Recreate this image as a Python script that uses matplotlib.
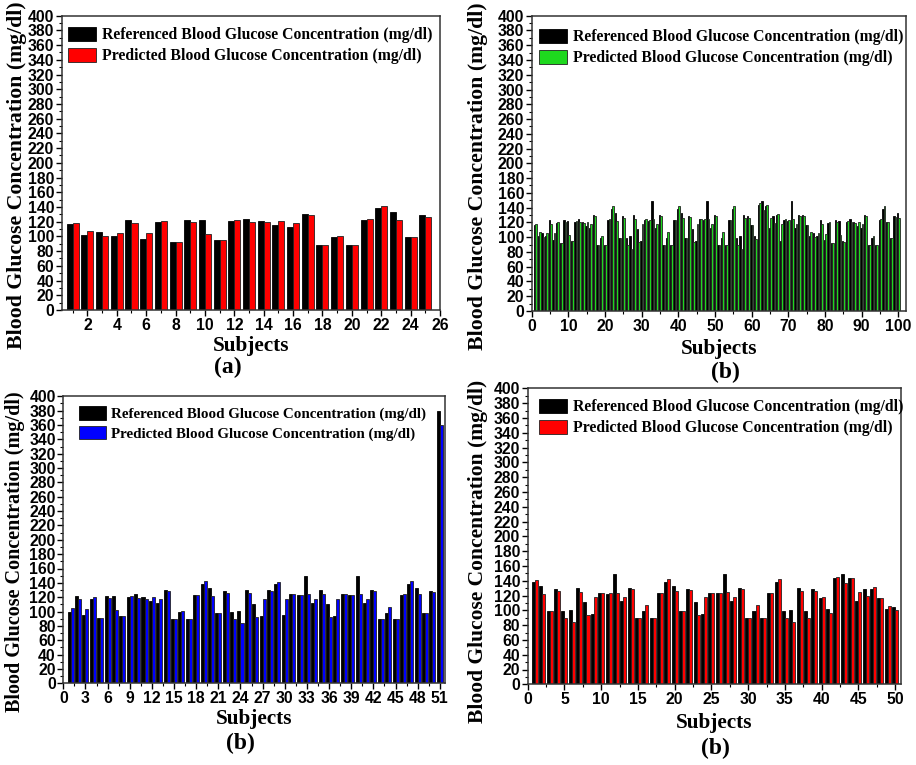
import matplotlib.pyplot as plt
from matplotlib.ticker import MultipleLocator
import numpy as np

# --- data (mg/dl)
a_ref = [117, 102, 106, 101, 123, 96, 119, 92, 123, 122, 95, 121, 124,
         121, 115, 113, 130, 89, 99, 89, 123, 138, 133, 99, 129]
a_pred = [118, 107, 100, 105, 118, 105, 121, 92, 120, 103, 95, 122, 120,
          119, 121, 118, 129, 89, 101, 89, 124, 142, 122, 99, 126]

b1_ref = [117, 102, 106, 101, 123, 96, 119, 92, 123, 122,
          95, 121, 124, 121, 115, 113, 130, 89, 99, 89,
          123, 138, 133, 99, 129, 99, 101, 130, 111, 95,
          123, 122, 149, 113, 130, 89, 99, 89, 123, 138,
          133, 99, 129, 111, 95, 124, 123, 149, 113, 130,
          89, 99, 89, 123, 138, 99, 101, 130, 129, 117,
          102, 143, 149, 142, 113, 129, 130, 95, 123, 122,
          149, 113, 130, 130, 117, 102, 106, 101, 123, 96,
          119, 92, 123, 122, 95, 121, 124, 121, 115, 113,
          130, 89, 99, 89, 123, 138, 121, 99, 129, 133]
b1_pred = [118, 107, 100, 105, 118, 105, 121, 92, 120, 103,
           95, 122, 120, 119, 121, 118, 129, 89, 101, 89,
           124, 142, 122, 99, 126, 90, 84, 125, 93, 118,
           124, 123, 124, 118, 129, 89, 107, 89, 123, 142,
           126, 99, 127, 93, 118, 124, 124, 125, 118, 129,
           89, 107, 89, 123, 142, 90, 84, 126, 126, 117,
           97, 146, 137, 144, 126, 119, 132, 118, 124, 123,
           124, 118, 129, 129, 117, 107, 100, 105, 118, 104,
           121, 92, 121, 103, 94, 122, 120, 119, 121, 118,
           129, 89, 102, 89, 124, 142, 121, 99, 127, 126]

b2_ref = [100, 122, 95, 118, 91, 122, 121, 94, 120, 124,
          120, 115, 112, 130, 89, 99, 89, 123, 138, 133,
          98, 129, 99, 101, 130, 111, 94, 130, 138, 95,
          124, 123, 149, 112, 130, 111, 94, 124, 123, 149,
          112, 130, 89, 98, 89, 123, 138, 133, 98, 129, 379]
b2_pred = [105, 117, 104, 120, 91, 119, 102, 94, 121, 119,
           118, 120, 117, 128, 89, 101, 89, 123, 142, 121,
           98, 126, 90, 84, 126, 93, 118, 129, 141, 118,
           124, 123, 125, 118, 125, 93, 118, 124, 123, 125,
           118, 129, 89, 106, 89, 124, 142, 125, 98, 127, 360]

b3_ref = [138, 133, 99, 129, 99, 101, 130, 111, 95, 123,
          122, 149, 113, 130, 89, 99, 89, 123, 138, 133,
          99, 129, 111, 95, 124, 123, 149, 113, 130, 89,
          99, 89, 123, 138, 99, 101, 130, 99, 129, 117,
          102, 143, 149, 143, 113, 129, 129, 117, 102, 105]
b3_pred = [141, 122, 99, 126, 90, 84, 125, 93, 118, 124,
           123, 124, 118, 129, 89, 107, 89, 123, 142, 126,
           99, 127, 93, 118, 124, 124, 125, 118, 129, 89,
           107, 89, 123, 142, 90, 84, 126, 90, 126, 118,
           97, 145, 137, 144, 125, 119, 132, 117, 106, 100]

ref_label = "Referenced Blood Glucose Concentration (mg/dl)"
pred_label = "Predicted Blood Glucose Concentration (mg/dl)"
ylab = "Blood Glucose Concentration (mg/dl)"
serif = "Liberation Serif"
sans = "Liberation Sans"

W, H = 916, 765
fig = plt.figure(figsize=(W / 100, H / 100), dpi=100)


def px_axes(x0, x1, y0, y1):
    return fig.add_axes([x0 / W, 1 - y1 / H, (x1 - x0) / W, (y1 - y0) / H])


def panel(ax, ref, pred, color, xlim, major, minor, ylab_xy, ylab_size,
          sub_y, leg_anchor, leg_size=11.3):
    x = np.arange(1, len(ref) + 1)
    w = 0.41
    ax.bar(x - w / 2, ref, w, color="black", edgecolor="black", linewidth=0.6,
           label=ref_label)
    ax.bar(x + w / 2, pred, w, color=color, edgecolor="#222222", linewidth=0.6,
           label=pred_label)
    ax.set_xlim(*xlim)
    ax.set_ylim(0, 400)
    ax.yaxis.set_major_locator(MultipleLocator(20))
    ax.yaxis.set_minor_locator(MultipleLocator(10))
    ax.xaxis.set_major_locator(MultipleLocator(major))
    ax.xaxis.set_minor_locator(MultipleLocator(minor))
    ax.tick_params(which="major", direction="out", length=4, width=1.0,
                   labelsize=11.3, pad=1.5)
    ax.tick_params(which="minor", direction="out", length=2.5, width=0.8)
    for lab in ax.get_xticklabels() + ax.get_yticklabels():
        lab.set_fontfamily(sans)
        lab.set_fontweight("bold")
    for s in ax.spines.values():
        s.set_linewidth(1.1)
        s.set_color("#333333")
    ax.set_ylabel(ylab, fontfamily=serif, fontweight="bold", fontsize=ylab_size)
    ax.yaxis.set_label_coords(*ylab_xy)
    ax.set_xlabel("Subjects", fontfamily=serif, fontweight="bold", fontsize=15.3)
    ax.xaxis.set_label_coords(0.5, sub_y)
    ax.legend(loc="upper left", bbox_to_anchor=leg_anchor, frameon=False,
              prop={"family": serif, "weight": "bold", "size": leg_size},
              handlelength=1.8, handleheight=1.0, handletextpad=0.35,
              labelspacing=0.3, borderaxespad=0, borderpad=0)


ax1 = px_axes(61.7, 440, 15.7, 310)
panel(ax1, a_ref, a_pred, "#ff0000", (0.25, 26), 2, 1,
      (-0.092, 0.459), 15.7, -0.088, (0.017, 0.962))

ax2 = px_axes(531.7, 905.7, 15.7, 311)
panel(ax2, b1_ref, b1_pred, "#1ed81e", (0, 102), 10, 5,
      (-0.117, 0.457), 15.7, -0.095, (0.02, 0.955))

ax3 = px_axes(63.3, 445, 396.3, 683.3)
panel(ax3, b2_ref, b2_pred, "#0000ff", (0, 51.7), 3, 1.5,
      (-0.10, 0.457), 14.5, -0.09, (0.041, 0.965), leg_size=10.8)

ax4 = px_axes(527.7, 901, 388.3, 684.3)
panel(ax4, b3_ref, b3_pred, "#ff0000", (0, 50.8), 5, 2.5,
      (-0.106, 0.45), 15.5, -0.097, (0.03, 0.965))

for (tx, ty, t) in [(228, 367, "(a)"), (725, 372, "(b)"),
                    (240, 743, "(b)"), (715, 748, "(b)")]:
    fig.text(tx / W, 1 - ty / H, t, ha="center", va="center",
             fontfamily=serif, fontweight="bold", fontsize=17)

fig.savefig("out.png", dpi=100)
